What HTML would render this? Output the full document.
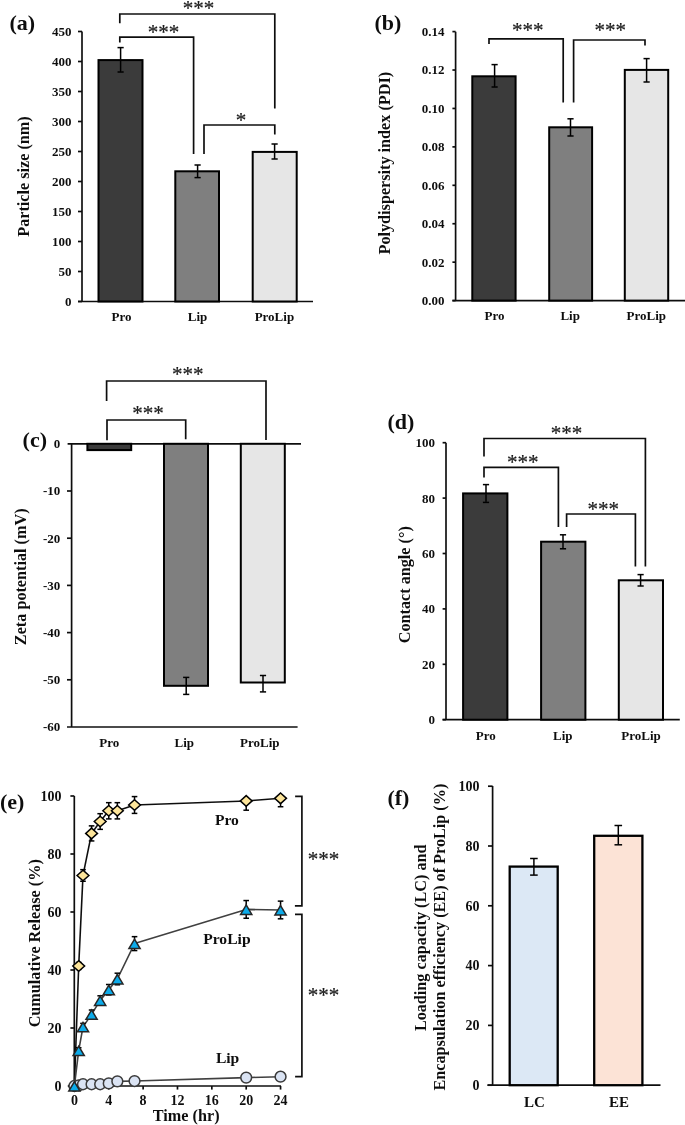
<!DOCTYPE html>
<html><head><meta charset="utf-8"><title>Figure</title>
<style>html,body{margin:0;padding:0;background:#fff;overflow:hidden;width:685px;height:1125px;}svg{display:block;}</style>
</head><body>
<svg width="685" height="1125" viewBox="0 0 685 1125">
<defs><filter id="soft" x="0" y="0" width="685" height="1125" filterUnits="userSpaceOnUse"><feGaussianBlur stdDeviation="0.45"/></filter></defs>
<rect width="685" height="1125" fill="#fff"/>
<g filter="url(#soft)">
<rect width="685" height="1125" fill="#fff"/>
<text x="9.5" y="29.8" font-family="Liberation Serif" font-size="22" font-weight="bold" text-anchor="start" fill="#111" >(a)</text>
<line x1="82" y1="31.6" x2="82" y2="301.5" stroke="#111" stroke-width="1.7"/>
<line x1="78" y1="301.5" x2="313" y2="301.5" stroke="#111" stroke-width="1.7"/>
<line x1="78" y1="301.5" x2="82" y2="301.5" stroke="#111" stroke-width="1.7"/>
<text x="71.5" y="305.9" font-family="Liberation Serif" font-size="13" font-weight="bold" text-anchor="end" fill="#111" >0</text>
<line x1="78" y1="271.5" x2="82" y2="271.5" stroke="#111" stroke-width="1.7"/>
<text x="71.5" y="275.9" font-family="Liberation Serif" font-size="13" font-weight="bold" text-anchor="end" fill="#111" >50</text>
<line x1="78" y1="241.5" x2="82" y2="241.5" stroke="#111" stroke-width="1.7"/>
<text x="71.5" y="245.9" font-family="Liberation Serif" font-size="13" font-weight="bold" text-anchor="end" fill="#111" >100</text>
<line x1="78" y1="211.5" x2="82" y2="211.5" stroke="#111" stroke-width="1.7"/>
<text x="71.5" y="215.9" font-family="Liberation Serif" font-size="13" font-weight="bold" text-anchor="end" fill="#111" >150</text>
<line x1="78" y1="181.5" x2="82" y2="181.5" stroke="#111" stroke-width="1.7"/>
<text x="71.5" y="185.9" font-family="Liberation Serif" font-size="13" font-weight="bold" text-anchor="end" fill="#111" >200</text>
<line x1="78" y1="151.5" x2="82" y2="151.5" stroke="#111" stroke-width="1.7"/>
<text x="71.5" y="155.9" font-family="Liberation Serif" font-size="13" font-weight="bold" text-anchor="end" fill="#111" >250</text>
<line x1="78" y1="121.5" x2="82" y2="121.5" stroke="#111" stroke-width="1.7"/>
<text x="71.5" y="125.9" font-family="Liberation Serif" font-size="13" font-weight="bold" text-anchor="end" fill="#111" >300</text>
<line x1="78" y1="91.5" x2="82" y2="91.5" stroke="#111" stroke-width="1.7"/>
<text x="71.5" y="95.9" font-family="Liberation Serif" font-size="13" font-weight="bold" text-anchor="end" fill="#111" >350</text>
<line x1="78" y1="61.5" x2="82" y2="61.5" stroke="#111" stroke-width="1.7"/>
<text x="71.5" y="65.9" font-family="Liberation Serif" font-size="13" font-weight="bold" text-anchor="end" fill="#111" >400</text>
<line x1="78" y1="31.5" x2="82" y2="31.5" stroke="#111" stroke-width="1.7"/>
<text x="71.5" y="35.9" font-family="Liberation Serif" font-size="13" font-weight="bold" text-anchor="end" fill="#111" >450</text>
<rect x="98.5" y="60.1" width="44.00" height="241.40" fill="#3b3b3b" stroke="#000" stroke-width="2.0"/>
<rect x="175.3" y="171.3" width="43.70" height="130.20" fill="#7f7f7f" stroke="#000" stroke-width="2.0"/>
<rect x="252.7" y="151.9" width="44.00" height="149.60" fill="#e6e6e6" stroke="#000" stroke-width="2.0"/>
<line x1="120.6" y1="47.6" x2="120.6" y2="72" stroke="#000" stroke-width="1.5"/>
<line x1="117.5" y1="47.6" x2="123.69999999999999" y2="47.6" stroke="#000" stroke-width="1.5"/>
<line x1="117.5" y1="72" x2="123.69999999999999" y2="72" stroke="#000" stroke-width="1.5"/>
<line x1="197.6" y1="165" x2="197.6" y2="177.6" stroke="#000" stroke-width="1.5"/>
<line x1="194.5" y1="165" x2="200.7" y2="165" stroke="#000" stroke-width="1.5"/>
<line x1="194.5" y1="177.6" x2="200.7" y2="177.6" stroke="#000" stroke-width="1.5"/>
<line x1="274.6" y1="144" x2="274.6" y2="159" stroke="#000" stroke-width="1.5"/>
<line x1="271.5" y1="144" x2="277.70000000000005" y2="144" stroke="#000" stroke-width="1.5"/>
<line x1="271.5" y1="159" x2="277.70000000000005" y2="159" stroke="#000" stroke-width="1.5"/>
<path d="M119.8,23.2 V14 H274.8 V108.5" stroke="#111" stroke-width="1.7" fill="none" stroke-linejoin="miter" stroke-linecap="butt"/>
<path d="M119.8,42.5 V37.2 H193.6 V154" stroke="#111" stroke-width="1.7" fill="none" stroke-linejoin="miter" stroke-linecap="butt"/>
<path d="M204,154 V125 H274.8 V134.4" stroke="#111" stroke-width="1.7" fill="none" stroke-linejoin="miter" stroke-linecap="butt"/>
<text x="198.5" y="15.31" font-family="Liberation Serif" font-size="21" font-weight="normal" text-anchor="middle" fill="#1a1a1a" stroke="#1a1a1a" stroke-width="0.2">***</text>
<text x="163.5" y="39.21" font-family="Liberation Serif" font-size="21" font-weight="normal" text-anchor="middle" fill="#1a1a1a" stroke="#1a1a1a" stroke-width="0.2">***</text>
<text x="241" y="126.81" font-family="Liberation Serif" font-size="21" font-weight="normal" text-anchor="middle" fill="#1a1a1a" stroke="#1a1a1a" stroke-width="0.2">*</text>
<text x="121.5" y="320.6" font-family="Liberation Serif" font-size="13" font-weight="bold" text-anchor="middle" fill="#111" >Pro</text>
<text x="197.6" y="320.6" font-family="Liberation Serif" font-size="13" font-weight="bold" text-anchor="middle" fill="#111" >Lip</text>
<text x="274.4" y="320.6" font-family="Liberation Serif" font-size="13" font-weight="bold" text-anchor="middle" fill="#111" >ProLip</text>
<text transform="translate(28.7,176.5) rotate(-90)" x="0" y="0" font-family="Liberation Serif" font-size="16.2" font-weight="bold" text-anchor="middle" fill="#111">Particle size (nm)</text>
<text x="374.5" y="29.9" font-family="Liberation Serif" font-size="22" font-weight="bold" text-anchor="start" fill="#111" >(b)</text>
<line x1="455.6" y1="31.7" x2="455.6" y2="300.6" stroke="#111" stroke-width="1.7"/>
<line x1="452.4" y1="300.6" x2="685" y2="300.6" stroke="#111" stroke-width="1.7"/>
<line x1="452.4" y1="300.6" x2="455.6" y2="300.6" stroke="#111" stroke-width="1.7"/>
<text x="444.6" y="305.0" font-family="Liberation Serif" font-size="13" font-weight="bold" text-anchor="end" fill="#111" >0.00</text>
<line x1="452.4" y1="262.17" x2="455.6" y2="262.17" stroke="#111" stroke-width="1.7"/>
<text x="444.6" y="266.57" font-family="Liberation Serif" font-size="13" font-weight="bold" text-anchor="end" fill="#111" >0.02</text>
<line x1="452.4" y1="223.74" x2="455.6" y2="223.74" stroke="#111" stroke-width="1.7"/>
<text x="444.6" y="228.14000000000001" font-family="Liberation Serif" font-size="13" font-weight="bold" text-anchor="end" fill="#111" >0.04</text>
<line x1="452.4" y1="185.31000000000003" x2="455.6" y2="185.31000000000003" stroke="#111" stroke-width="1.7"/>
<text x="444.6" y="189.71000000000004" font-family="Liberation Serif" font-size="13" font-weight="bold" text-anchor="end" fill="#111" >0.06</text>
<line x1="452.4" y1="146.88000000000002" x2="455.6" y2="146.88000000000002" stroke="#111" stroke-width="1.7"/>
<text x="444.6" y="151.28000000000003" font-family="Liberation Serif" font-size="13" font-weight="bold" text-anchor="end" fill="#111" >0.08</text>
<line x1="452.4" y1="108.45000000000002" x2="455.6" y2="108.45000000000002" stroke="#111" stroke-width="1.7"/>
<text x="444.6" y="112.85000000000002" font-family="Liberation Serif" font-size="13" font-weight="bold" text-anchor="end" fill="#111" >0.10</text>
<line x1="452.4" y1="70.02000000000004" x2="455.6" y2="70.02000000000004" stroke="#111" stroke-width="1.7"/>
<text x="444.6" y="74.42000000000004" font-family="Liberation Serif" font-size="13" font-weight="bold" text-anchor="end" fill="#111" >0.12</text>
<line x1="452.4" y1="31.589999999999975" x2="455.6" y2="31.589999999999975" stroke="#111" stroke-width="1.7"/>
<text x="444.6" y="35.989999999999974" font-family="Liberation Serif" font-size="13" font-weight="bold" text-anchor="end" fill="#111" >0.14</text>
<rect x="472.3" y="76.3" width="43.30" height="224.30" fill="#3b3b3b" stroke="#000" stroke-width="2.0"/>
<rect x="549.2" y="127.3" width="42.90" height="173.30" fill="#7f7f7f" stroke="#000" stroke-width="2.0"/>
<rect x="624.8" y="69.9" width="43.40" height="230.70" fill="#e6e6e6" stroke="#000" stroke-width="2.0"/>
<line x1="494.6" y1="64.6" x2="494.6" y2="87" stroke="#000" stroke-width="1.5"/>
<line x1="491.5" y1="64.6" x2="497.70000000000005" y2="64.6" stroke="#000" stroke-width="1.5"/>
<line x1="491.5" y1="87" x2="497.70000000000005" y2="87" stroke="#000" stroke-width="1.5"/>
<line x1="570.5" y1="118.8" x2="570.5" y2="136" stroke="#000" stroke-width="1.5"/>
<line x1="567.4" y1="118.8" x2="573.6" y2="118.8" stroke="#000" stroke-width="1.5"/>
<line x1="567.4" y1="136" x2="573.6" y2="136" stroke="#000" stroke-width="1.5"/>
<line x1="646.6" y1="58.6" x2="646.6" y2="82" stroke="#000" stroke-width="1.5"/>
<line x1="643.5" y1="58.6" x2="649.7" y2="58.6" stroke="#000" stroke-width="1.5"/>
<line x1="643.5" y1="82" x2="649.7" y2="82" stroke="#000" stroke-width="1.5"/>
<path d="M489,44 V38.9 H563.2 V102.6" stroke="#111" stroke-width="1.7" fill="none" stroke-linejoin="miter" stroke-linecap="butt"/>
<path d="M573.6,102.6 V40 H645 V45.6" stroke="#111" stroke-width="1.7" fill="none" stroke-linejoin="miter" stroke-linecap="butt"/>
<text x="527.8" y="37.01" font-family="Liberation Serif" font-size="21" font-weight="normal" text-anchor="middle" fill="#1a1a1a" stroke="#1a1a1a" stroke-width="0.2">***</text>
<text x="610.2" y="37.01" font-family="Liberation Serif" font-size="21" font-weight="normal" text-anchor="middle" fill="#1a1a1a" stroke="#1a1a1a" stroke-width="0.2">***</text>
<text x="494.5" y="320.2" font-family="Liberation Serif" font-size="13" font-weight="bold" text-anchor="middle" fill="#111" >Pro</text>
<text x="570.2" y="320.2" font-family="Liberation Serif" font-size="13" font-weight="bold" text-anchor="middle" fill="#111" >Lip</text>
<text x="646.3" y="320.2" font-family="Liberation Serif" font-size="13" font-weight="bold" text-anchor="middle" fill="#111" >ProLip</text>
<text transform="translate(390.1,163.2) rotate(-90)" x="0" y="0" font-family="Liberation Serif" font-size="16.2" font-weight="bold" text-anchor="middle" fill="#111">Polydispersity index (PDI)</text>
<text x="22.6" y="447.2" font-family="Liberation Serif" font-size="22" font-weight="bold" text-anchor="start" fill="#111" >(c)</text>
<line x1="71.6" y1="443.8" x2="71.6" y2="727" stroke="#111" stroke-width="1.7"/>
<line x1="67.6" y1="443.8" x2="301" y2="443.8" stroke="#111" stroke-width="1.7"/>
<line x1="67" y1="727" x2="297.6" y2="727" stroke="#111" stroke-width="1.7"/>
<text x="60.3" y="448.2" font-family="Liberation Serif" font-size="13" font-weight="bold" text-anchor="end" fill="#111" >0</text>
<line x1="67" y1="491.0" x2="71.6" y2="491.0" stroke="#111" stroke-width="1.7"/>
<text x="60.3" y="495.4" font-family="Liberation Serif" font-size="13" font-weight="bold" text-anchor="end" fill="#111" >-10</text>
<line x1="67" y1="538.2" x2="71.6" y2="538.2" stroke="#111" stroke-width="1.7"/>
<text x="60.3" y="542.6" font-family="Liberation Serif" font-size="13" font-weight="bold" text-anchor="end" fill="#111" >-20</text>
<line x1="67" y1="585.4" x2="71.6" y2="585.4" stroke="#111" stroke-width="1.7"/>
<text x="60.3" y="589.8" font-family="Liberation Serif" font-size="13" font-weight="bold" text-anchor="end" fill="#111" >-30</text>
<line x1="67" y1="632.6" x2="71.6" y2="632.6" stroke="#111" stroke-width="1.7"/>
<text x="60.3" y="637.0" font-family="Liberation Serif" font-size="13" font-weight="bold" text-anchor="end" fill="#111" >-40</text>
<line x1="67" y1="679.8" x2="71.6" y2="679.8" stroke="#111" stroke-width="1.7"/>
<text x="60.3" y="684.1999999999999" font-family="Liberation Serif" font-size="13" font-weight="bold" text-anchor="end" fill="#111" >-50</text>
<text x="60.3" y="731.4" font-family="Liberation Serif" font-size="13" font-weight="bold" text-anchor="end" fill="#111" >-60</text>
<rect x="87.4" y="443.8" width="43.80" height="6.30" fill="#3b3b3b" stroke="#000" stroke-width="2.0"/>
<rect x="164.0" y="443.8" width="44.00" height="242.00" fill="#7f7f7f" stroke="#000" stroke-width="2.0"/>
<rect x="240.8" y="443.8" width="44.00" height="238.70" fill="#e6e6e6" stroke="#000" stroke-width="2.0"/>
<line x1="186.2" y1="677.4" x2="186.2" y2="694.4" stroke="#000" stroke-width="1.5"/>
<line x1="183.1" y1="677.4" x2="189.29999999999998" y2="677.4" stroke="#000" stroke-width="1.5"/>
<line x1="183.1" y1="694.4" x2="189.29999999999998" y2="694.4" stroke="#000" stroke-width="1.5"/>
<line x1="263" y1="675.5" x2="263" y2="691.9" stroke="#000" stroke-width="1.5"/>
<line x1="259.9" y1="675.5" x2="266.1" y2="675.5" stroke="#000" stroke-width="1.5"/>
<line x1="259.9" y1="691.9" x2="266.1" y2="691.9" stroke="#000" stroke-width="1.5"/>
<path d="M107.0,440.3 V420 H185.7 V439.3" stroke="#111" stroke-width="1.7" fill="none" stroke-linejoin="miter" stroke-linecap="butt"/>
<path d="M106.6,401 V381 H266 V440" stroke="#111" stroke-width="1.7" fill="none" stroke-linejoin="miter" stroke-linecap="butt"/>
<text x="148" y="419.81" font-family="Liberation Serif" font-size="21" font-weight="normal" text-anchor="middle" fill="#1a1a1a" stroke="#1a1a1a" stroke-width="0.2">***</text>
<text x="187.8" y="381.01" font-family="Liberation Serif" font-size="21" font-weight="normal" text-anchor="middle" fill="#1a1a1a" stroke="#1a1a1a" stroke-width="0.2">***</text>
<text x="109.2" y="746.5" font-family="Liberation Serif" font-size="13" font-weight="bold" text-anchor="middle" fill="#111" >Pro</text>
<text x="184.3" y="746.5" font-family="Liberation Serif" font-size="13" font-weight="bold" text-anchor="middle" fill="#111" >Lip</text>
<text x="259.8" y="746.5" font-family="Liberation Serif" font-size="13" font-weight="bold" text-anchor="middle" fill="#111" >ProLip</text>
<text transform="translate(26.4,576.8) rotate(-90)" x="0" y="0" font-family="Liberation Serif" font-size="16.2" font-weight="bold" text-anchor="middle" fill="#111">Zeta potential (mV)</text>
<text x="387.4" y="429" font-family="Liberation Serif" font-size="22" font-weight="bold" text-anchor="start" fill="#111" >(d)</text>
<line x1="446" y1="442.7" x2="446" y2="719.7" stroke="#111" stroke-width="1.7"/>
<line x1="442.6" y1="719.7" x2="679.8" y2="719.7" stroke="#111" stroke-width="1.7"/>
<line x1="442.6" y1="719.7" x2="446" y2="719.7" stroke="#111" stroke-width="1.7"/>
<text x="435.0" y="724.1" font-family="Liberation Serif" font-size="13" font-weight="bold" text-anchor="end" fill="#111" >0</text>
<line x1="442.6" y1="664.3000000000001" x2="446" y2="664.3000000000001" stroke="#111" stroke-width="1.7"/>
<text x="435.0" y="668.7" font-family="Liberation Serif" font-size="13" font-weight="bold" text-anchor="end" fill="#111" >20</text>
<line x1="442.6" y1="608.9000000000001" x2="446" y2="608.9000000000001" stroke="#111" stroke-width="1.7"/>
<text x="435.0" y="613.3000000000001" font-family="Liberation Serif" font-size="13" font-weight="bold" text-anchor="end" fill="#111" >40</text>
<line x1="442.6" y1="553.5" x2="446" y2="553.5" stroke="#111" stroke-width="1.7"/>
<text x="435.0" y="557.9" font-family="Liberation Serif" font-size="13" font-weight="bold" text-anchor="end" fill="#111" >60</text>
<line x1="442.6" y1="498.1" x2="446" y2="498.1" stroke="#111" stroke-width="1.7"/>
<text x="435.0" y="502.5" font-family="Liberation Serif" font-size="13" font-weight="bold" text-anchor="end" fill="#111" >80</text>
<line x1="442.6" y1="442.70000000000005" x2="446" y2="442.70000000000005" stroke="#111" stroke-width="1.7"/>
<text x="435.0" y="447.1" font-family="Liberation Serif" font-size="13" font-weight="bold" text-anchor="end" fill="#111" >100</text>
<rect x="463.1" y="493.4" width="44.30" height="226.30" fill="#3b3b3b" stroke="#000" stroke-width="2.0"/>
<rect x="541.1" y="541.7" width="44.30" height="178.00" fill="#7f7f7f" stroke="#000" stroke-width="2.0"/>
<rect x="618.8" y="580.3" width="44.20" height="139.40" fill="#e6e6e6" stroke="#000" stroke-width="2.0"/>
<line x1="486" y1="484.6" x2="486" y2="502.4" stroke="#000" stroke-width="1.5"/>
<line x1="482.9" y1="484.6" x2="489.1" y2="484.6" stroke="#000" stroke-width="1.5"/>
<line x1="482.9" y1="502.4" x2="489.1" y2="502.4" stroke="#000" stroke-width="1.5"/>
<line x1="563" y1="534.8" x2="563" y2="548.8" stroke="#000" stroke-width="1.5"/>
<line x1="559.9" y1="534.8" x2="566.1" y2="534.8" stroke="#000" stroke-width="1.5"/>
<line x1="559.9" y1="548.8" x2="566.1" y2="548.8" stroke="#000" stroke-width="1.5"/>
<line x1="640.6" y1="574.6" x2="640.6" y2="586" stroke="#000" stroke-width="1.5"/>
<line x1="637.5" y1="574.6" x2="643.7" y2="574.6" stroke="#000" stroke-width="1.5"/>
<line x1="637.5" y1="586" x2="643.7" y2="586" stroke="#000" stroke-width="1.5"/>
<path d="M484,456.6 V438.5 H645.4 V566.4" stroke="#111" stroke-width="1.7" fill="none" stroke-linejoin="miter" stroke-linecap="butt"/>
<path d="M484,477.6 V467.4 H558.4 V527" stroke="#111" stroke-width="1.7" fill="none" stroke-linejoin="miter" stroke-linecap="butt"/>
<path d="M566.6,527 V514 H635.4 V566.4" stroke="#111" stroke-width="1.7" fill="none" stroke-linejoin="miter" stroke-linecap="butt"/>
<text x="566.5" y="439.81" font-family="Liberation Serif" font-size="21" font-weight="normal" text-anchor="middle" fill="#1a1a1a" stroke="#1a1a1a" stroke-width="0.2">***</text>
<text x="522.7" y="469.11" font-family="Liberation Serif" font-size="21" font-weight="normal" text-anchor="middle" fill="#1a1a1a" stroke="#1a1a1a" stroke-width="0.2">***</text>
<text x="603.3" y="515.91" font-family="Liberation Serif" font-size="21" font-weight="normal" text-anchor="middle" fill="#1a1a1a" stroke="#1a1a1a" stroke-width="0.2">***</text>
<text x="485.8" y="739.8" font-family="Liberation Serif" font-size="13" font-weight="bold" text-anchor="middle" fill="#111" >Pro</text>
<text x="562.8" y="739.8" font-family="Liberation Serif" font-size="13" font-weight="bold" text-anchor="middle" fill="#111" >Lip</text>
<text x="641" y="739.8" font-family="Liberation Serif" font-size="13" font-weight="bold" text-anchor="middle" fill="#111" >ProLip</text>
<text transform="translate(409.9,584.7) rotate(-90)" x="0" y="0" font-family="Liberation Serif" font-size="16.2" font-weight="bold" text-anchor="middle" fill="#111">Contact angle (°)</text>
<text x="0" y="809" font-family="Liberation Serif" font-size="22" font-weight="bold" text-anchor="start" fill="#111" >(e)</text>
<line x1="74.3" y1="796" x2="74.3" y2="1086" stroke="#111" stroke-width="1.7"/>
<line x1="70.4" y1="1086" x2="281" y2="1086" stroke="#111" stroke-width="1.7"/>
<line x1="70.4" y1="1086.0" x2="74.3" y2="1086.0" stroke="#111" stroke-width="1.7"/>
<text x="61.6" y="1090.8" font-family="Liberation Serif" font-size="14" font-weight="bold" text-anchor="end" fill="#111" >0</text>
<line x1="70.4" y1="1028.0" x2="74.3" y2="1028.0" stroke="#111" stroke-width="1.7"/>
<text x="61.6" y="1032.8" font-family="Liberation Serif" font-size="14" font-weight="bold" text-anchor="end" fill="#111" >20</text>
<line x1="70.4" y1="970.0" x2="74.3" y2="970.0" stroke="#111" stroke-width="1.7"/>
<text x="61.6" y="974.8" font-family="Liberation Serif" font-size="14" font-weight="bold" text-anchor="end" fill="#111" >40</text>
<line x1="70.4" y1="912.0" x2="74.3" y2="912.0" stroke="#111" stroke-width="1.7"/>
<text x="61.6" y="916.8" font-family="Liberation Serif" font-size="14" font-weight="bold" text-anchor="end" fill="#111" >60</text>
<line x1="70.4" y1="854.0" x2="74.3" y2="854.0" stroke="#111" stroke-width="1.7"/>
<text x="61.6" y="858.8" font-family="Liberation Serif" font-size="14" font-weight="bold" text-anchor="end" fill="#111" >80</text>
<line x1="70.4" y1="796.0" x2="74.3" y2="796.0" stroke="#111" stroke-width="1.7"/>
<text x="61.6" y="800.8" font-family="Liberation Serif" font-size="14" font-weight="bold" text-anchor="end" fill="#111" >100</text>
<line x1="74.4" y1="1086" x2="74.4" y2="1089.6" stroke="#111" stroke-width="1.7"/>
<text x="74.4" y="1105.1" font-family="Liberation Serif" font-size="14" font-weight="bold" text-anchor="middle" fill="#111" >0</text>
<line x1="108.76" y1="1086" x2="108.76" y2="1089.6" stroke="#111" stroke-width="1.7"/>
<text x="108.76" y="1105.1" font-family="Liberation Serif" font-size="14" font-weight="bold" text-anchor="middle" fill="#111" >4</text>
<line x1="143.12" y1="1086" x2="143.12" y2="1089.6" stroke="#111" stroke-width="1.7"/>
<text x="143.12" y="1105.1" font-family="Liberation Serif" font-size="14" font-weight="bold" text-anchor="middle" fill="#111" >8</text>
<line x1="177.48000000000002" y1="1086" x2="177.48000000000002" y2="1089.6" stroke="#111" stroke-width="1.7"/>
<text x="177.48000000000002" y="1105.1" font-family="Liberation Serif" font-size="14" font-weight="bold" text-anchor="middle" fill="#111" >12</text>
<line x1="211.84" y1="1086" x2="211.84" y2="1089.6" stroke="#111" stroke-width="1.7"/>
<text x="211.84" y="1105.1" font-family="Liberation Serif" font-size="14" font-weight="bold" text-anchor="middle" fill="#111" >16</text>
<line x1="246.20000000000002" y1="1086" x2="246.20000000000002" y2="1089.6" stroke="#111" stroke-width="1.7"/>
<text x="246.20000000000002" y="1105.1" font-family="Liberation Serif" font-size="14" font-weight="bold" text-anchor="middle" fill="#111" >20</text>
<line x1="280.56" y1="1086" x2="280.56" y2="1089.6" stroke="#111" stroke-width="1.7"/>
<text x="280.56" y="1105.1" font-family="Liberation Serif" font-size="14" font-weight="bold" text-anchor="middle" fill="#111" >24</text>
<text x="186.2" y="1120.9" font-family="Liberation Serif" font-size="16.2" font-weight="bold" text-anchor="middle" fill="#111" >Time (hr)</text>
<text transform="translate(39.6,943.3) rotate(-90)" x="0" y="0" font-family="Liberation Serif" font-size="16.2" font-weight="bold" text-anchor="middle" fill="#111">Cumulative Release (%)</text>
<polyline points="74.40,1086.00 78.70,965.94 82.99,875.46 91.58,833.41 100.17,821.52 108.76,810.79 117.35,810.79 134.53,804.99 246.20,800.93 280.56,798.32" fill="none" stroke="#111" stroke-width="1.6" stroke-linejoin="round"/>
<line x1="78.69500000000001" y1="962.46" x2="78.69500000000001" y2="969.4200000000001" stroke="#000" stroke-width="1.5"/>
<line x1="75.89500000000001" y1="962.46" x2="81.495" y2="962.46" stroke="#000" stroke-width="1.5"/>
<line x1="75.89500000000001" y1="969.4200000000001" x2="81.495" y2="969.4200000000001" stroke="#000" stroke-width="1.5"/>
<line x1="82.99000000000001" y1="869.6600000000001" x2="82.99000000000001" y2="881.26" stroke="#000" stroke-width="1.5"/>
<line x1="80.19000000000001" y1="869.6600000000001" x2="85.79" y2="869.6600000000001" stroke="#000" stroke-width="1.5"/>
<line x1="80.19000000000001" y1="881.26" x2="85.79" y2="881.26" stroke="#000" stroke-width="1.5"/>
<line x1="91.58000000000001" y1="825.8700000000001" x2="91.58000000000001" y2="840.95" stroke="#000" stroke-width="1.5"/>
<line x1="88.78000000000002" y1="825.8700000000001" x2="94.38000000000001" y2="825.8700000000001" stroke="#000" stroke-width="1.5"/>
<line x1="88.78000000000002" y1="840.95" x2="94.38000000000001" y2="840.95" stroke="#000" stroke-width="1.5"/>
<line x1="100.17" y1="813.69" x2="100.17" y2="829.35" stroke="#000" stroke-width="1.5"/>
<line x1="97.37" y1="813.69" x2="102.97" y2="813.69" stroke="#000" stroke-width="1.5"/>
<line x1="97.37" y1="829.35" x2="102.97" y2="829.35" stroke="#000" stroke-width="1.5"/>
<line x1="108.76" y1="802.6700000000001" x2="108.76" y2="818.91" stroke="#000" stroke-width="1.5"/>
<line x1="105.96000000000001" y1="802.6700000000001" x2="111.56" y2="802.6700000000001" stroke="#000" stroke-width="1.5"/>
<line x1="105.96000000000001" y1="818.91" x2="111.56" y2="818.91" stroke="#000" stroke-width="1.5"/>
<line x1="117.35000000000001" y1="802.6700000000001" x2="117.35000000000001" y2="818.91" stroke="#000" stroke-width="1.5"/>
<line x1="114.55000000000001" y1="802.6700000000001" x2="120.15" y2="802.6700000000001" stroke="#000" stroke-width="1.5"/>
<line x1="114.55000000000001" y1="818.91" x2="120.15" y2="818.91" stroke="#000" stroke-width="1.5"/>
<line x1="134.53" y1="796.5799999999999" x2="134.53" y2="813.4000000000001" stroke="#000" stroke-width="1.5"/>
<line x1="131.73" y1="796.5799999999999" x2="137.33" y2="796.5799999999999" stroke="#000" stroke-width="1.5"/>
<line x1="131.73" y1="813.4000000000001" x2="137.33" y2="813.4000000000001" stroke="#000" stroke-width="1.5"/>
<line x1="246.20000000000002" y1="796.0" x2="246.20000000000002" y2="810.21" stroke="#000" stroke-width="1.5"/>
<line x1="243.4" y1="810.21" x2="249.00000000000003" y2="810.21" stroke="#000" stroke-width="1.5"/>
<line x1="280.56" y1="796.0" x2="280.56" y2="806.73" stroke="#000" stroke-width="1.5"/>
<line x1="277.76" y1="806.73" x2="283.36" y2="806.73" stroke="#000" stroke-width="1.5"/>
<path d="M74.40,1080.70 L80.30,1086.00 L74.40,1091.30 L68.50,1086.00 Z" fill="#fde59a" stroke="#000" stroke-width="1.5"/>
<path d="M78.70,960.64 L84.60,965.94 L78.70,971.24 L72.80,965.94 Z" fill="#fde59a" stroke="#000" stroke-width="1.5"/>
<path d="M82.99,870.16 L88.89,875.46 L82.99,880.76 L77.09,875.46 Z" fill="#fde59a" stroke="#000" stroke-width="1.5"/>
<path d="M91.58,828.11 L97.48,833.41 L91.58,838.71 L85.68,833.41 Z" fill="#fde59a" stroke="#000" stroke-width="1.5"/>
<path d="M100.17,816.22 L106.07,821.52 L100.17,826.82 L94.27,821.52 Z" fill="#fde59a" stroke="#000" stroke-width="1.5"/>
<path d="M108.76,805.49 L114.66,810.79 L108.76,816.09 L102.86,810.79 Z" fill="#fde59a" stroke="#000" stroke-width="1.5"/>
<path d="M117.35,805.49 L123.25,810.79 L117.35,816.09 L111.45,810.79 Z" fill="#fde59a" stroke="#000" stroke-width="1.5"/>
<path d="M134.53,799.69 L140.43,804.99 L134.53,810.29 L128.63,804.99 Z" fill="#fde59a" stroke="#000" stroke-width="1.5"/>
<path d="M246.20,795.63 L252.10,800.93 L246.20,806.23 L240.30,800.93 Z" fill="#fde59a" stroke="#000" stroke-width="1.5"/>
<path d="M280.56,793.02 L286.46,798.32 L280.56,803.62 L274.66,798.32 Z" fill="#fde59a" stroke="#000" stroke-width="1.5"/>
<polyline points="74.40,1086.00 78.70,1085.42 82.99,1084.26 91.58,1084.26 100.17,1084.26 108.76,1083.39 117.35,1081.36 134.53,1081.07 246.20,1077.59 280.56,1076.72" fill="none" stroke="#404040" stroke-width="1.6" stroke-linejoin="round"/>
<circle cx="74.40" cy="1086.00" r="5.4" fill="#dae3f3" stroke="#3a3a3a" stroke-width="1.5"/>
<circle cx="78.70" cy="1085.42" r="5.4" fill="#dae3f3" stroke="#3a3a3a" stroke-width="1.5"/>
<circle cx="82.99" cy="1084.26" r="5.4" fill="#dae3f3" stroke="#3a3a3a" stroke-width="1.5"/>
<circle cx="91.58" cy="1084.26" r="5.4" fill="#dae3f3" stroke="#3a3a3a" stroke-width="1.5"/>
<circle cx="100.17" cy="1084.26" r="5.4" fill="#dae3f3" stroke="#3a3a3a" stroke-width="1.5"/>
<circle cx="108.76" cy="1083.39" r="5.4" fill="#dae3f3" stroke="#3a3a3a" stroke-width="1.5"/>
<circle cx="117.35" cy="1081.36" r="5.4" fill="#dae3f3" stroke="#3a3a3a" stroke-width="1.5"/>
<circle cx="134.53" cy="1081.07" r="5.4" fill="#dae3f3" stroke="#3a3a3a" stroke-width="1.5"/>
<circle cx="246.20" cy="1077.59" r="5.4" fill="#dae3f3" stroke="#3a3a3a" stroke-width="1.5"/>
<circle cx="280.56" cy="1076.72" r="5.4" fill="#dae3f3" stroke="#3a3a3a" stroke-width="1.5"/>
<polyline points="74.40,1086.00 78.70,1050.62 82.99,1026.84 91.58,1014.37 100.17,1000.45 108.76,989.72 117.35,978.99 134.53,943.61 246.20,909.39 280.56,909.97" fill="none" stroke="#404040" stroke-width="1.6" stroke-linejoin="round"/>
<line x1="78.69500000000001" y1="1047.72" x2="78.69500000000001" y2="1053.52" stroke="#000" stroke-width="1.5"/>
<line x1="75.89500000000001" y1="1047.72" x2="81.495" y2="1047.72" stroke="#000" stroke-width="1.5"/>
<line x1="75.89500000000001" y1="1053.52" x2="81.495" y2="1053.52" stroke="#000" stroke-width="1.5"/>
<line x1="82.99000000000001" y1="1023.36" x2="82.99000000000001" y2="1030.32" stroke="#000" stroke-width="1.5"/>
<line x1="80.19000000000001" y1="1023.36" x2="85.79" y2="1023.36" stroke="#000" stroke-width="1.5"/>
<line x1="80.19000000000001" y1="1030.32" x2="85.79" y2="1030.32" stroke="#000" stroke-width="1.5"/>
<line x1="91.58000000000001" y1="1010.02" x2="91.58000000000001" y2="1018.72" stroke="#000" stroke-width="1.5"/>
<line x1="88.78000000000002" y1="1010.02" x2="94.38000000000001" y2="1010.02" stroke="#000" stroke-width="1.5"/>
<line x1="88.78000000000002" y1="1018.72" x2="94.38000000000001" y2="1018.72" stroke="#000" stroke-width="1.5"/>
<line x1="100.17" y1="995.81" x2="100.17" y2="1005.09" stroke="#000" stroke-width="1.5"/>
<line x1="97.37" y1="995.81" x2="102.97" y2="995.81" stroke="#000" stroke-width="1.5"/>
<line x1="97.37" y1="1005.09" x2="102.97" y2="1005.09" stroke="#000" stroke-width="1.5"/>
<line x1="108.76" y1="984.5" x2="108.76" y2="994.94" stroke="#000" stroke-width="1.5"/>
<line x1="105.96000000000001" y1="984.5" x2="111.56" y2="984.5" stroke="#000" stroke-width="1.5"/>
<line x1="105.96000000000001" y1="994.94" x2="111.56" y2="994.94" stroke="#000" stroke-width="1.5"/>
<line x1="117.35000000000001" y1="973.19" x2="117.35000000000001" y2="984.79" stroke="#000" stroke-width="1.5"/>
<line x1="114.55000000000001" y1="973.19" x2="120.15" y2="973.19" stroke="#000" stroke-width="1.5"/>
<line x1="114.55000000000001" y1="984.79" x2="120.15" y2="984.79" stroke="#000" stroke-width="1.5"/>
<line x1="134.53" y1="936.65" x2="134.53" y2="950.5699999999999" stroke="#000" stroke-width="1.5"/>
<line x1="131.73" y1="936.65" x2="137.33" y2="936.65" stroke="#000" stroke-width="1.5"/>
<line x1="131.73" y1="950.5699999999999" x2="137.33" y2="950.5699999999999" stroke="#000" stroke-width="1.5"/>
<line x1="246.20000000000002" y1="900.5450000000001" x2="246.20000000000002" y2="918.235" stroke="#000" stroke-width="1.5"/>
<line x1="243.4" y1="900.5450000000001" x2="249.00000000000003" y2="900.5450000000001" stroke="#000" stroke-width="1.5"/>
<line x1="243.4" y1="918.235" x2="249.00000000000003" y2="918.235" stroke="#000" stroke-width="1.5"/>
<line x1="280.56" y1="901.125" x2="280.56" y2="918.815" stroke="#000" stroke-width="1.5"/>
<line x1="277.76" y1="901.125" x2="283.36" y2="901.125" stroke="#000" stroke-width="1.5"/>
<line x1="277.76" y1="918.815" x2="283.36" y2="918.815" stroke="#000" stroke-width="1.5"/>
<path d="M74.40,1081.60 L80.00,1091.00 L68.80,1091.00 Z" fill="#0aabea" stroke="#262626" stroke-width="1.5" stroke-linejoin="miter"/>
<path d="M78.70,1046.22 L84.30,1055.62 L73.10,1055.62 Z" fill="#0aabea" stroke="#262626" stroke-width="1.5" stroke-linejoin="miter"/>
<path d="M82.99,1022.44 L88.59,1031.84 L77.39,1031.84 Z" fill="#0aabea" stroke="#262626" stroke-width="1.5" stroke-linejoin="miter"/>
<path d="M91.58,1009.97 L97.18,1019.37 L85.98,1019.37 Z" fill="#0aabea" stroke="#262626" stroke-width="1.5" stroke-linejoin="miter"/>
<path d="M100.17,996.05 L105.77,1005.45 L94.57,1005.45 Z" fill="#0aabea" stroke="#262626" stroke-width="1.5" stroke-linejoin="miter"/>
<path d="M108.76,985.32 L114.36,994.72 L103.16,994.72 Z" fill="#0aabea" stroke="#262626" stroke-width="1.5" stroke-linejoin="miter"/>
<path d="M117.35,974.59 L122.95,983.99 L111.75,983.99 Z" fill="#0aabea" stroke="#262626" stroke-width="1.5" stroke-linejoin="miter"/>
<path d="M134.53,939.21 L140.13,948.61 L128.93,948.61 Z" fill="#0aabea" stroke="#262626" stroke-width="1.5" stroke-linejoin="miter"/>
<path d="M246.20,904.99 L251.80,914.39 L240.60,914.39 Z" fill="#0aabea" stroke="#262626" stroke-width="1.5" stroke-linejoin="miter"/>
<path d="M280.56,905.57 L286.16,914.97 L274.96,914.97 Z" fill="#0aabea" stroke="#262626" stroke-width="1.5" stroke-linejoin="miter"/>
<text x="226.9" y="824.6" font-family="Liberation Serif" font-size="15.6" font-weight="bold" text-anchor="middle" fill="#111" >Pro</text>
<text x="226.9" y="944" font-family="Liberation Serif" font-size="15.6" font-weight="bold" text-anchor="middle" fill="#111" >ProLip</text>
<text x="227.6" y="1063" font-family="Liberation Serif" font-size="15.6" font-weight="bold" text-anchor="middle" fill="#111" >Lip</text>
<path d="M295.1,796.3 H301.9 V905.9 H294.9" stroke="#111" stroke-width="1.7" fill="none" stroke-linejoin="miter" stroke-linecap="butt"/>
<path d="M295.0,914.4 H301.9 V1076.6 H295.1" stroke="#111" stroke-width="1.7" fill="none" stroke-linejoin="miter" stroke-linecap="butt"/>
<text x="323.4" y="865.51" font-family="Liberation Serif" font-size="21" font-weight="normal" text-anchor="middle" fill="#1a1a1a" stroke="#1a1a1a" stroke-width="0.2">***</text>
<text x="323.4" y="1001.71" font-family="Liberation Serif" font-size="21" font-weight="normal" text-anchor="middle" fill="#1a1a1a" stroke="#1a1a1a" stroke-width="0.2">***</text>
<text x="387.4" y="805" font-family="Liberation Serif" font-size="22" font-weight="bold" text-anchor="start" fill="#111" >(f)</text>
<line x1="492.6" y1="786" x2="492.6" y2="1085.2" stroke="#111" stroke-width="1.7"/>
<line x1="487.3" y1="1085.2" x2="660.5" y2="1085.2" stroke="#111" stroke-width="1.7"/>
<line x1="488" y1="1085.2" x2="492.6" y2="1085.2" stroke="#111" stroke-width="1.7"/>
<text x="479.6" y="1090.0" font-family="Liberation Serif" font-size="14" font-weight="bold" text-anchor="end" fill="#111" >0</text>
<line x1="488" y1="1025.4" x2="492.6" y2="1025.4" stroke="#111" stroke-width="1.7"/>
<text x="479.6" y="1030.2" font-family="Liberation Serif" font-size="14" font-weight="bold" text-anchor="end" fill="#111" >20</text>
<line x1="488" y1="965.6" x2="492.6" y2="965.6" stroke="#111" stroke-width="1.7"/>
<text x="479.6" y="970.4" font-family="Liberation Serif" font-size="14" font-weight="bold" text-anchor="end" fill="#111" >40</text>
<line x1="488" y1="905.8000000000001" x2="492.6" y2="905.8000000000001" stroke="#111" stroke-width="1.7"/>
<text x="479.6" y="910.6" font-family="Liberation Serif" font-size="14" font-weight="bold" text-anchor="end" fill="#111" >60</text>
<line x1="488" y1="846.0" x2="492.6" y2="846.0" stroke="#111" stroke-width="1.7"/>
<text x="479.6" y="850.8" font-family="Liberation Serif" font-size="14" font-weight="bold" text-anchor="end" fill="#111" >80</text>
<line x1="488" y1="786.2" x2="492.6" y2="786.2" stroke="#111" stroke-width="1.7"/>
<text x="479.6" y="791.0" font-family="Liberation Serif" font-size="14" font-weight="bold" text-anchor="end" fill="#111" >100</text>
<rect x="509.7" y="866.6" width="48.00" height="218.60" fill="#dce8f5" stroke="#000" stroke-width="2.3"/>
<rect x="594.2" y="835.8" width="48.20" height="249.40" fill="#fce3d6" stroke="#000" stroke-width="2.3"/>
<line x1="533.9" y1="858.5" x2="533.9" y2="875.1" stroke="#000" stroke-width="1.5"/>
<line x1="530.1" y1="858.5" x2="537.6999999999999" y2="858.5" stroke="#000" stroke-width="1.5"/>
<line x1="530.1" y1="875.1" x2="537.6999999999999" y2="875.1" stroke="#000" stroke-width="1.5"/>
<line x1="618.3" y1="825.5" x2="618.3" y2="844.8" stroke="#000" stroke-width="1.5"/>
<line x1="614.5" y1="825.5" x2="622.0999999999999" y2="825.5" stroke="#000" stroke-width="1.5"/>
<line x1="614.5" y1="844.8" x2="622.0999999999999" y2="844.8" stroke="#000" stroke-width="1.5"/>
<text x="534.4" y="1106.6" font-family="Liberation Serif" font-size="15" font-weight="bold" text-anchor="middle" fill="#111" >LC</text>
<text x="619" y="1106.6" font-family="Liberation Serif" font-size="15" font-weight="bold" text-anchor="middle" fill="#111" >EE</text>
<text transform="translate(426.4,937.8) rotate(-90)" font-family="Liberation Serif" font-size="16.2" font-weight="bold" text-anchor="middle" fill="#111">Loading capacity (LC) and</text>
<text transform="translate(445.4,937.1) rotate(-90)" font-family="Liberation Serif" font-size="16.2" font-weight="bold" text-anchor="middle" fill="#111">Encapsulation efficiency (EE) of ProLip (%)</text>
</g>
</svg>
</body></html>
